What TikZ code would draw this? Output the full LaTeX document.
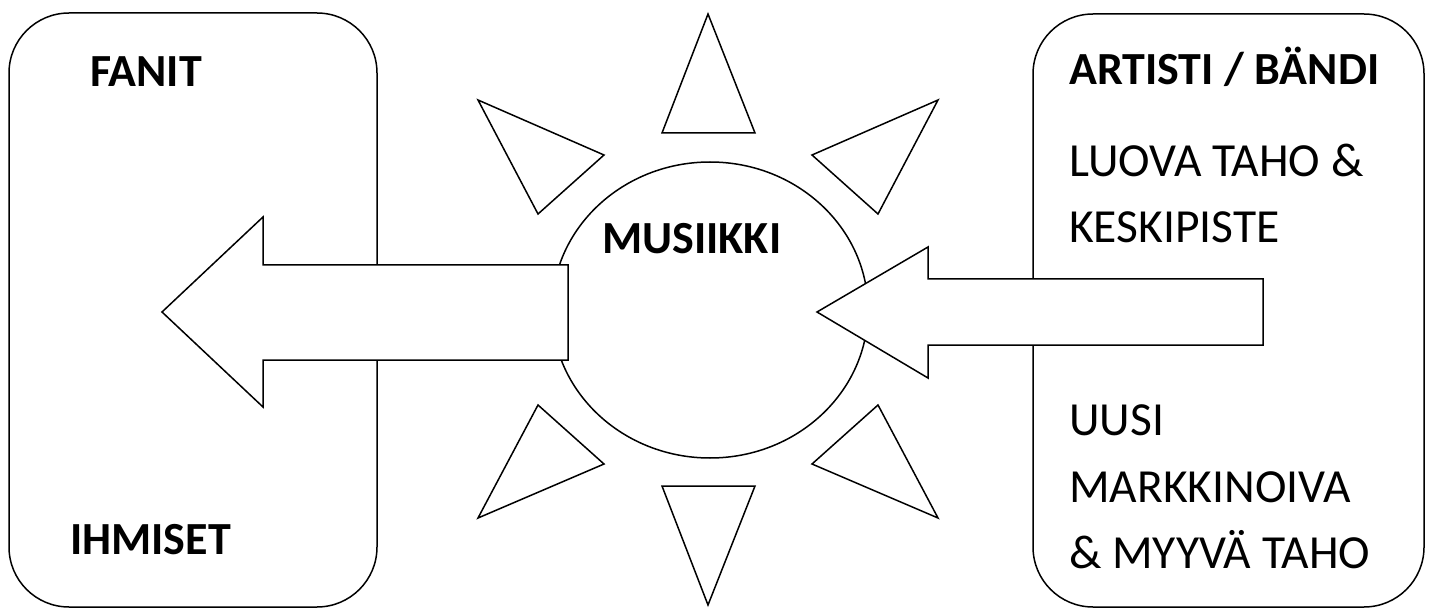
\documentclass[tikz,border=0pt]{standalone}
\usepackage{fontspec}
\setmainfont{Carlito}
\usetikzlibrary{shapes.geometric}
\begin{document}
\begin{tikzpicture}[x=1pt,y=-1pt,
  lw/.style={line width=1.5pt, line join=miter},
  panel/.style={draw, lw, rounded corners=60pt, inner sep=0pt},
  disc/.style={draw, lw, ellipse, inner sep=0pt, minimum width=316pt, minimum height=296pt},
  ray/.style={draw, lw, fill=white},
  bigarrow/.style={draw, lw, fill=white},
  lbl/.style={inner sep=0pt, anchor=base west, font=\fontsize{47.5}{57}\selectfont},
  blbl/.style={inner sep=0pt, anchor=base west, font=\fontsize{46}{55}\selectfont\bfseries}
]
\useasboundingbox (0,0) rectangle (1431,609);
% panels
\node[panel, minimum width=368pt, minimum height=594pt] (fans) at (193,310) {};
\node[panel, minimum width=391pt, minimum height=593pt] (artist) at (1228.5,310.5) {};
% centre
\node[disc] (music) at (710,310) {};
% rays
\draw[ray] (708,14) -- (755,133) -- (662,133) -- cycle;
\draw[ray] (662,486) -- (755,486) -- (708,605) -- cycle;
\draw[ray] (478,100) -- (604,155) -- (538,214) -- cycle;
\draw[ray] (538,405) -- (604,464) -- (478,518) -- cycle;
\draw[ray] (938,100) -- (812,155) -- (878,214) -- cycle;
\draw[ray] (878,405) -- (812,464) -- (938,518) -- cycle;
% arrows
\draw[bigarrow] (568,265) -- (263,265) -- (263,217) -- (162,312) -- (263,407) -- (263,360) -- (568,360) -- cycle;
\draw[bigarrow] (1263,279) -- (928,279) -- (928,247) -- (817,312) -- (928,378) -- (928,345) -- (1263,345) -- cycle;
% texts
\node[blbl] (t1) at (90,87) {FANIT};
\node[blbl] (t2) at (70,554) {IHMISET};
\node[blbl] (t3) at (602,254) {MUSIIKKI};
\node[blbl] (t4) at (1069,85) {ARTISTI / BÄNDI};
\node[lbl] (t5) at (1069,177) {LUOVA TAHO \&};
\node[lbl] (t6) at (1069,243) {KESKIPISTE};
\node[lbl] (t7) at (1069,435) {UUSI};
\node[lbl] (t8) at (1069,502) {MARKKINOIVA};
\node[lbl] (t9) at (1069,568) {\& MYYVÄ TAHO};
\end{tikzpicture}
\end{document}
